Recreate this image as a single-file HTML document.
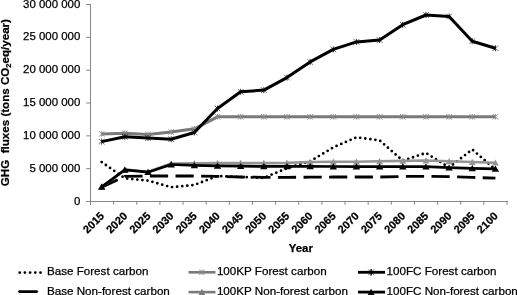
<!DOCTYPE html>
<html><head><meta charset="utf-8"><style>
html,body{margin:0;padding:0;background:#fff;width:517px;height:295px;overflow:hidden}
svg{display:block;filter:grayscale(1)}
text{font-family:"Liberation Sans",sans-serif;stroke:#000;stroke-width:0.25px}
</style></head><body>
<svg width="517" height="295" viewBox="0 0 517 295"><rect width="517" height="295" fill="#fff"/><g stroke="#868686" stroke-width="1" fill="none"><path d="M90.5,4 V204.75"/><path d="M86.2,201.5 H508"/><path d="M86.2,201.50 H90.5"/><path d="M86.2,168.67 H90.5"/><path d="M86.2,135.83 H90.5"/><path d="M86.2,103.00 H90.5"/><path d="M86.2,70.17 H90.5"/><path d="M86.2,37.33 H90.5"/><path d="M86.2,4.50 H90.5"/><path d="M90.50,201.5 V204.75"/><path d="M113.64,201.5 V204.75"/><path d="M136.78,201.5 V204.75"/><path d="M159.92,201.5 V204.75"/><path d="M183.06,201.5 V204.75"/><path d="M206.19,201.5 V204.75"/><path d="M229.33,201.5 V204.75"/><path d="M252.47,201.5 V204.75"/><path d="M275.61,201.5 V204.75"/><path d="M298.75,201.5 V204.75"/><path d="M321.89,201.5 V204.75"/><path d="M345.03,201.5 V204.75"/><path d="M368.17,201.5 V204.75"/><path d="M391.31,201.5 V204.75"/><path d="M414.44,201.5 V204.75"/><path d="M437.58,201.5 V204.75"/><path d="M460.72,201.5 V204.75"/><path d="M483.86,201.5 V204.75"/><path d="M507.00,201.5 V204.75"/></g><g font-family="Liberation Sans" font-size="11.45" text-anchor="end" fill="#000"><text x="80.3" y="204.60">0</text><text x="80.3" y="171.77">5 000 000</text><text x="80.3" y="138.93">10 000 000</text><text x="80.3" y="106.10">15 000 000</text><text x="80.3" y="73.27">20 000 000</text><text x="80.3" y="40.43">25 000 000</text><text x="80.3" y="7.60">30 000 000</text></g><g font-family="Liberation Sans" font-weight="bold" font-size="11" text-anchor="end" fill="#000"><text transform="translate(104.90,216.70) rotate(-45)">2015</text><text transform="translate(128.06,216.70) rotate(-45)">2020</text><text transform="translate(151.22,216.70) rotate(-45)">2025</text><text transform="translate(174.38,216.70) rotate(-45)">2030</text><text transform="translate(197.54,216.70) rotate(-45)">2035</text><text transform="translate(220.70,216.70) rotate(-45)">2040</text><text transform="translate(243.86,216.70) rotate(-45)">2045</text><text transform="translate(267.02,216.70) rotate(-45)">2050</text><text transform="translate(290.18,216.70) rotate(-45)">2055</text><text transform="translate(313.34,216.70) rotate(-45)">2060</text><text transform="translate(336.50,216.70) rotate(-45)">2065</text><text transform="translate(359.66,216.70) rotate(-45)">2070</text><text transform="translate(382.82,216.70) rotate(-45)">2075</text><text transform="translate(405.98,216.70) rotate(-45)">2080</text><text transform="translate(429.14,216.70) rotate(-45)">2085</text><text transform="translate(452.30,216.70) rotate(-45)">2090</text><text transform="translate(475.46,216.70) rotate(-45)">2095</text><text transform="translate(498.62,216.70) rotate(-45)">2100</text></g><text x="288.8" y="252.4" font-family="Liberation Sans" font-weight="bold" font-size="11.4">Year</text><text transform="translate(8.7,186.2) rotate(-90)" font-family="Liberation Sans" font-weight="bold" font-size="11.6" xml:space="preserve">GHG  fluxes (tons CO<tspan font-size="7.5" dy="2.5">2</tspan><tspan dy="-2.5">eq/year)</tspan></text><path d="M101.70,162.10 L124.86,178.30 L148.02,180.60 L171.18,187.20 L194.34,185.00 L217.50,176.00 L240.66,177.00 L263.82,177.80 L286.98,168.30 L310.14,161.30 L333.30,147.40 L356.46,137.30 L379.62,140.40 L402.78,160.70 L425.94,152.90 L449.10,167.50 L472.26,149.50 L495.42,169.50" stroke="#000" stroke-width="2.8" fill="none" stroke-linecap="round" stroke-dasharray="0 5.1"/><path d="M101.70,187.30 L124.86,176.30 L148.02,176.00 L171.18,176.00 L194.34,176.00 L217.50,176.40 L240.66,177.00 L263.82,177.30 L286.98,177.30 L310.14,177.20 L333.30,177.00 L356.46,177.00 L379.62,177.00 L402.78,176.50 L425.94,176.30 L449.10,176.60 L472.26,177.40 L495.42,178.20" stroke="#000" stroke-width="2.8" fill="none" stroke-dasharray="18.2 7.4" stroke-dashoffset="0.5"/><path d="M101.70,133.90 L124.86,133.20 L148.02,134.50 L171.18,132.00 L194.34,128.80 L217.50,116.80 L240.66,116.80 L263.82,116.80 L286.98,116.80 L310.14,116.80 L333.30,116.80 L356.46,116.80 L379.62,116.80 L402.78,116.80 L425.94,116.80 L449.10,116.80 L472.26,116.80 L495.42,116.80" stroke="#7a7a7a" stroke-width="3.0" fill="none" stroke-linejoin="round"/><path d="M99.00,131.20L104.40,136.60M99.00,136.60L104.40,131.20M101.70,131.20L101.70,136.60" stroke="#8c8c8c" stroke-width="1" fill="none"/><path d="M122.16,130.50L127.56,135.90M122.16,135.90L127.56,130.50M124.86,130.50L124.86,135.90" stroke="#8c8c8c" stroke-width="1" fill="none"/><path d="M145.32,131.80L150.72,137.20M145.32,137.20L150.72,131.80M148.02,131.80L148.02,137.20" stroke="#8c8c8c" stroke-width="1" fill="none"/><path d="M168.48,129.30L173.88,134.70M168.48,134.70L173.88,129.30M171.18,129.30L171.18,134.70" stroke="#8c8c8c" stroke-width="1" fill="none"/><path d="M191.64,126.10L197.04,131.50M191.64,131.50L197.04,126.10M194.34,126.10L194.34,131.50" stroke="#8c8c8c" stroke-width="1" fill="none"/><path d="M214.80,114.10L220.20,119.50M214.80,119.50L220.20,114.10M217.50,114.10L217.50,119.50" stroke="#8c8c8c" stroke-width="1" fill="none"/><path d="M237.96,114.10L243.36,119.50M237.96,119.50L243.36,114.10M240.66,114.10L240.66,119.50" stroke="#8c8c8c" stroke-width="1" fill="none"/><path d="M261.12,114.10L266.52,119.50M261.12,119.50L266.52,114.10M263.82,114.10L263.82,119.50" stroke="#8c8c8c" stroke-width="1" fill="none"/><path d="M284.28,114.10L289.68,119.50M284.28,119.50L289.68,114.10M286.98,114.10L286.98,119.50" stroke="#8c8c8c" stroke-width="1" fill="none"/><path d="M307.44,114.10L312.84,119.50M307.44,119.50L312.84,114.10M310.14,114.10L310.14,119.50" stroke="#8c8c8c" stroke-width="1" fill="none"/><path d="M330.60,114.10L336.00,119.50M330.60,119.50L336.00,114.10M333.30,114.10L333.30,119.50" stroke="#8c8c8c" stroke-width="1" fill="none"/><path d="M353.76,114.10L359.16,119.50M353.76,119.50L359.16,114.10M356.46,114.10L356.46,119.50" stroke="#8c8c8c" stroke-width="1" fill="none"/><path d="M376.92,114.10L382.32,119.50M376.92,119.50L382.32,114.10M379.62,114.10L379.62,119.50" stroke="#8c8c8c" stroke-width="1" fill="none"/><path d="M400.08,114.10L405.48,119.50M400.08,119.50L405.48,114.10M402.78,114.10L402.78,119.50" stroke="#8c8c8c" stroke-width="1" fill="none"/><path d="M423.24,114.10L428.64,119.50M423.24,119.50L428.64,114.10M425.94,114.10L425.94,119.50" stroke="#8c8c8c" stroke-width="1" fill="none"/><path d="M446.40,114.10L451.80,119.50M446.40,119.50L451.80,114.10M449.10,114.10L449.10,119.50" stroke="#8c8c8c" stroke-width="1" fill="none"/><path d="M469.56,114.10L474.96,119.50M469.56,119.50L474.96,114.10M472.26,114.10L472.26,119.50" stroke="#8c8c8c" stroke-width="1" fill="none"/><path d="M492.72,114.10L498.12,119.50M492.72,119.50L498.12,114.10M495.42,114.10L495.42,119.50" stroke="#8c8c8c" stroke-width="1" fill="none"/><path d="M101.70,186.90 L124.86,169.60 L148.02,171.70 L171.18,163.50 L194.34,163.40 L217.50,163.10 L240.66,163.10 L263.82,163.10 L286.98,162.90 L310.14,162.00 L333.30,161.80 L356.46,161.80 L379.62,161.30 L402.78,160.90 L425.94,160.50 L449.10,161.30 L472.26,162.00 L495.42,162.70" stroke="#959595" stroke-width="2.6" fill="none" stroke-linejoin="round"/><path d="M101.70,183.60L105.10,189.80L98.30,189.80Z" fill="#959595"/><path d="M124.86,166.30L128.26,172.50L121.46,172.50Z" fill="#959595"/><path d="M148.02,168.40L151.42,174.60L144.62,174.60Z" fill="#959595"/><path d="M171.18,160.20L174.58,166.40L167.78,166.40Z" fill="#959595"/><path d="M194.34,160.10L197.74,166.30L190.94,166.30Z" fill="#959595"/><path d="M217.50,159.80L220.90,166.00L214.10,166.00Z" fill="#959595"/><path d="M240.66,159.80L244.06,166.00L237.26,166.00Z" fill="#959595"/><path d="M263.82,159.80L267.22,166.00L260.42,166.00Z" fill="#959595"/><path d="M286.98,159.60L290.38,165.80L283.58,165.80Z" fill="#959595"/><path d="M310.14,158.70L313.54,164.90L306.74,164.90Z" fill="#959595"/><path d="M333.30,158.50L336.70,164.70L329.90,164.70Z" fill="#959595"/><path d="M356.46,158.50L359.86,164.70L353.06,164.70Z" fill="#959595"/><path d="M379.62,158.00L383.02,164.20L376.22,164.20Z" fill="#959595"/><path d="M402.78,157.60L406.18,163.80L399.38,163.80Z" fill="#959595"/><path d="M425.94,157.20L429.34,163.40L422.54,163.40Z" fill="#959595"/><path d="M449.10,158.00L452.50,164.20L445.70,164.20Z" fill="#959595"/><path d="M472.26,158.70L475.66,164.90L468.86,164.90Z" fill="#959595"/><path d="M495.42,159.40L498.82,165.60L492.02,165.60Z" fill="#959595"/><path d="M101.70,141.60 L124.86,136.80 L148.02,138.10 L171.18,139.20 L194.34,132.50 L217.50,108.50 L240.66,91.80 L263.82,90.10 L286.98,77.60 L310.14,61.90 L333.30,49.40 L356.46,41.90 L379.62,40.10 L402.78,24.70 L425.94,15.00 L449.10,16.50 L472.26,41.20 L495.42,48.20" stroke="#000" stroke-width="3.0" fill="none" stroke-linejoin="round"/><path d="M98.90,138.80L104.50,144.40M98.90,144.40L104.50,138.80" stroke="#000" stroke-width="0.6" fill="none"/><path d="M101.70,138.60L101.70,144.60" stroke="#000" stroke-width="0.8" fill="none"/><path d="M122.06,134.00L127.66,139.60M122.06,139.60L127.66,134.00" stroke="#000" stroke-width="0.6" fill="none"/><path d="M124.86,133.80L124.86,139.80" stroke="#000" stroke-width="0.8" fill="none"/><path d="M145.22,135.30L150.82,140.90M145.22,140.90L150.82,135.30" stroke="#000" stroke-width="0.6" fill="none"/><path d="M148.02,135.10L148.02,141.10" stroke="#000" stroke-width="0.8" fill="none"/><path d="M168.38,136.40L173.98,142.00M168.38,142.00L173.98,136.40" stroke="#000" stroke-width="0.6" fill="none"/><path d="M171.18,136.20L171.18,142.20" stroke="#000" stroke-width="0.8" fill="none"/><path d="M191.54,129.70L197.14,135.30M191.54,135.30L197.14,129.70" stroke="#000" stroke-width="0.6" fill="none"/><path d="M194.34,129.50L194.34,135.50" stroke="#000" stroke-width="0.8" fill="none"/><path d="M214.70,105.70L220.30,111.30M214.70,111.30L220.30,105.70" stroke="#000" stroke-width="0.6" fill="none"/><path d="M217.50,105.50L217.50,111.50" stroke="#000" stroke-width="0.8" fill="none"/><path d="M237.86,89.00L243.46,94.60M237.86,94.60L243.46,89.00" stroke="#000" stroke-width="0.6" fill="none"/><path d="M240.66,88.80L240.66,94.80" stroke="#000" stroke-width="0.8" fill="none"/><path d="M261.02,87.30L266.62,92.90M261.02,92.90L266.62,87.30" stroke="#000" stroke-width="0.6" fill="none"/><path d="M263.82,87.10L263.82,93.10" stroke="#000" stroke-width="0.8" fill="none"/><path d="M284.18,74.80L289.78,80.40M284.18,80.40L289.78,74.80" stroke="#000" stroke-width="0.6" fill="none"/><path d="M286.98,74.60L286.98,80.60" stroke="#000" stroke-width="0.8" fill="none"/><path d="M307.34,59.10L312.94,64.70M307.34,64.70L312.94,59.10" stroke="#000" stroke-width="0.6" fill="none"/><path d="M310.14,58.90L310.14,64.90" stroke="#000" stroke-width="0.8" fill="none"/><path d="M330.50,46.60L336.10,52.20M330.50,52.20L336.10,46.60" stroke="#000" stroke-width="0.6" fill="none"/><path d="M333.30,46.40L333.30,52.40" stroke="#000" stroke-width="0.8" fill="none"/><path d="M353.66,39.10L359.26,44.70M353.66,44.70L359.26,39.10" stroke="#000" stroke-width="0.6" fill="none"/><path d="M356.46,38.90L356.46,44.90" stroke="#000" stroke-width="0.8" fill="none"/><path d="M376.82,37.30L382.42,42.90M376.82,42.90L382.42,37.30" stroke="#000" stroke-width="0.6" fill="none"/><path d="M379.62,37.10L379.62,43.10" stroke="#000" stroke-width="0.8" fill="none"/><path d="M399.98,21.90L405.58,27.50M399.98,27.50L405.58,21.90" stroke="#000" stroke-width="0.6" fill="none"/><path d="M402.78,21.70L402.78,27.70" stroke="#000" stroke-width="0.8" fill="none"/><path d="M423.14,12.20L428.74,17.80M423.14,17.80L428.74,12.20" stroke="#000" stroke-width="0.6" fill="none"/><path d="M425.94,12.00L425.94,18.00" stroke="#000" stroke-width="0.8" fill="none"/><path d="M446.30,13.70L451.90,19.30M446.30,19.30L451.90,13.70" stroke="#000" stroke-width="0.6" fill="none"/><path d="M449.10,13.50L449.10,19.50" stroke="#000" stroke-width="0.8" fill="none"/><path d="M469.46,38.40L475.06,44.00M469.46,44.00L475.06,38.40" stroke="#000" stroke-width="0.6" fill="none"/><path d="M472.26,38.20L472.26,44.20" stroke="#000" stroke-width="0.8" fill="none"/><path d="M492.62,45.40L498.22,51.00M492.62,51.00L498.22,45.40" stroke="#000" stroke-width="0.6" fill="none"/><path d="M495.42,45.20L495.42,51.20" stroke="#000" stroke-width="0.8" fill="none"/><path d="M101.70,186.90 L124.86,169.80 L148.02,172.20 L171.18,164.50 L194.34,165.40 L217.50,165.90 L240.66,166.20 L263.82,166.40 L286.98,166.40 L310.14,166.40 L333.30,166.50 L356.46,166.60 L379.62,166.60 L402.78,166.60 L425.94,166.70 L449.10,167.70 L472.26,168.30 L495.42,168.90" stroke="#000" stroke-width="2.7" fill="none" stroke-linejoin="round"/><path d="M101.70,183.60L105.40,189.80L98.00,189.80Z" fill="#000"/><path d="M124.86,166.50L128.56,172.70L121.16,172.70Z" fill="#000"/><path d="M148.02,168.90L151.72,175.10L144.32,175.10Z" fill="#000"/><path d="M171.18,161.20L174.88,167.40L167.48,167.40Z" fill="#000"/><path d="M194.34,162.10L198.04,168.30L190.64,168.30Z" fill="#000"/><path d="M217.50,162.60L221.20,168.80L213.80,168.80Z" fill="#000"/><path d="M240.66,162.90L244.36,169.10L236.96,169.10Z" fill="#000"/><path d="M263.82,163.10L267.52,169.30L260.12,169.30Z" fill="#000"/><path d="M286.98,163.10L290.68,169.30L283.28,169.30Z" fill="#000"/><path d="M310.14,163.10L313.84,169.30L306.44,169.30Z" fill="#000"/><path d="M333.30,163.20L337.00,169.40L329.60,169.40Z" fill="#000"/><path d="M356.46,163.30L360.16,169.50L352.76,169.50Z" fill="#000"/><path d="M379.62,163.30L383.32,169.50L375.92,169.50Z" fill="#000"/><path d="M402.78,163.30L406.48,169.50L399.08,169.50Z" fill="#000"/><path d="M425.94,163.40L429.64,169.60L422.24,169.60Z" fill="#000"/><path d="M449.10,164.40L452.80,170.60L445.40,170.60Z" fill="#000"/><path d="M472.26,165.00L475.96,171.20L468.56,171.20Z" fill="#000"/><path d="M495.42,165.60L499.12,171.80L491.72,171.80Z" fill="#000"/><g font-family="Liberation Sans" font-size="11.65" fill="#000"><text x="46.9" y="275.10">Base Forest carbon</text><text x="46.9" y="294.60">Base Non-forest carbon</text><text x="216.9" y="275.10">100KP Forest carbon</text><text x="216.9" y="294.60">100KP Non-forest carbon</text><text x="386.5" y="275.10">100FC Forest carbon</text><text x="386.5" y="294.60">100FC Non-forest carbon</text></g><path d="M19.7,272.6 H40.6" stroke="#000" stroke-width="2.8" stroke-linecap="round" stroke-dasharray="0 5.2" fill="none"/><path d="M19.6,291.6 H36.6" stroke="#000" stroke-width="2.9" stroke-linecap="round" fill="none"/><path d="M188.5,272.3 H215.5" stroke="#7a7a7a" stroke-width="2.6" fill="none"/><path d="M199.20,269.60L204.60,275.00M199.20,275.00L204.60,269.60M201.90,269.60L201.90,275.00" stroke="#8c8c8c" stroke-width="1" fill="none"/><path d="M188.5,292.1 H215.5" stroke="#7a7a7a" stroke-width="2.6" fill="none"/><path d="M201.90,288.80L205.30,295.00L198.50,295.00Z" fill="#7a7a7a"/><path d="M358,272.3 H385" stroke="#000" stroke-width="2.8" fill="none"/><path d="M368.30,269.50L373.90,275.10M368.30,275.10L373.90,269.50" stroke="#000" stroke-width="0.6" fill="none"/><path d="M371.10,269.30L371.10,275.30" stroke="#000" stroke-width="0.8" fill="none"/><path d="M371.1,269.1V275.5" stroke="#000" stroke-width="1.1"/><path d="M358,292.1 H385" stroke="#000" stroke-width="2.8" fill="none"/><path d="M371.10,288.80L374.50,295.00L367.70,295.00Z" fill="#000"/></svg>
</body></html>
